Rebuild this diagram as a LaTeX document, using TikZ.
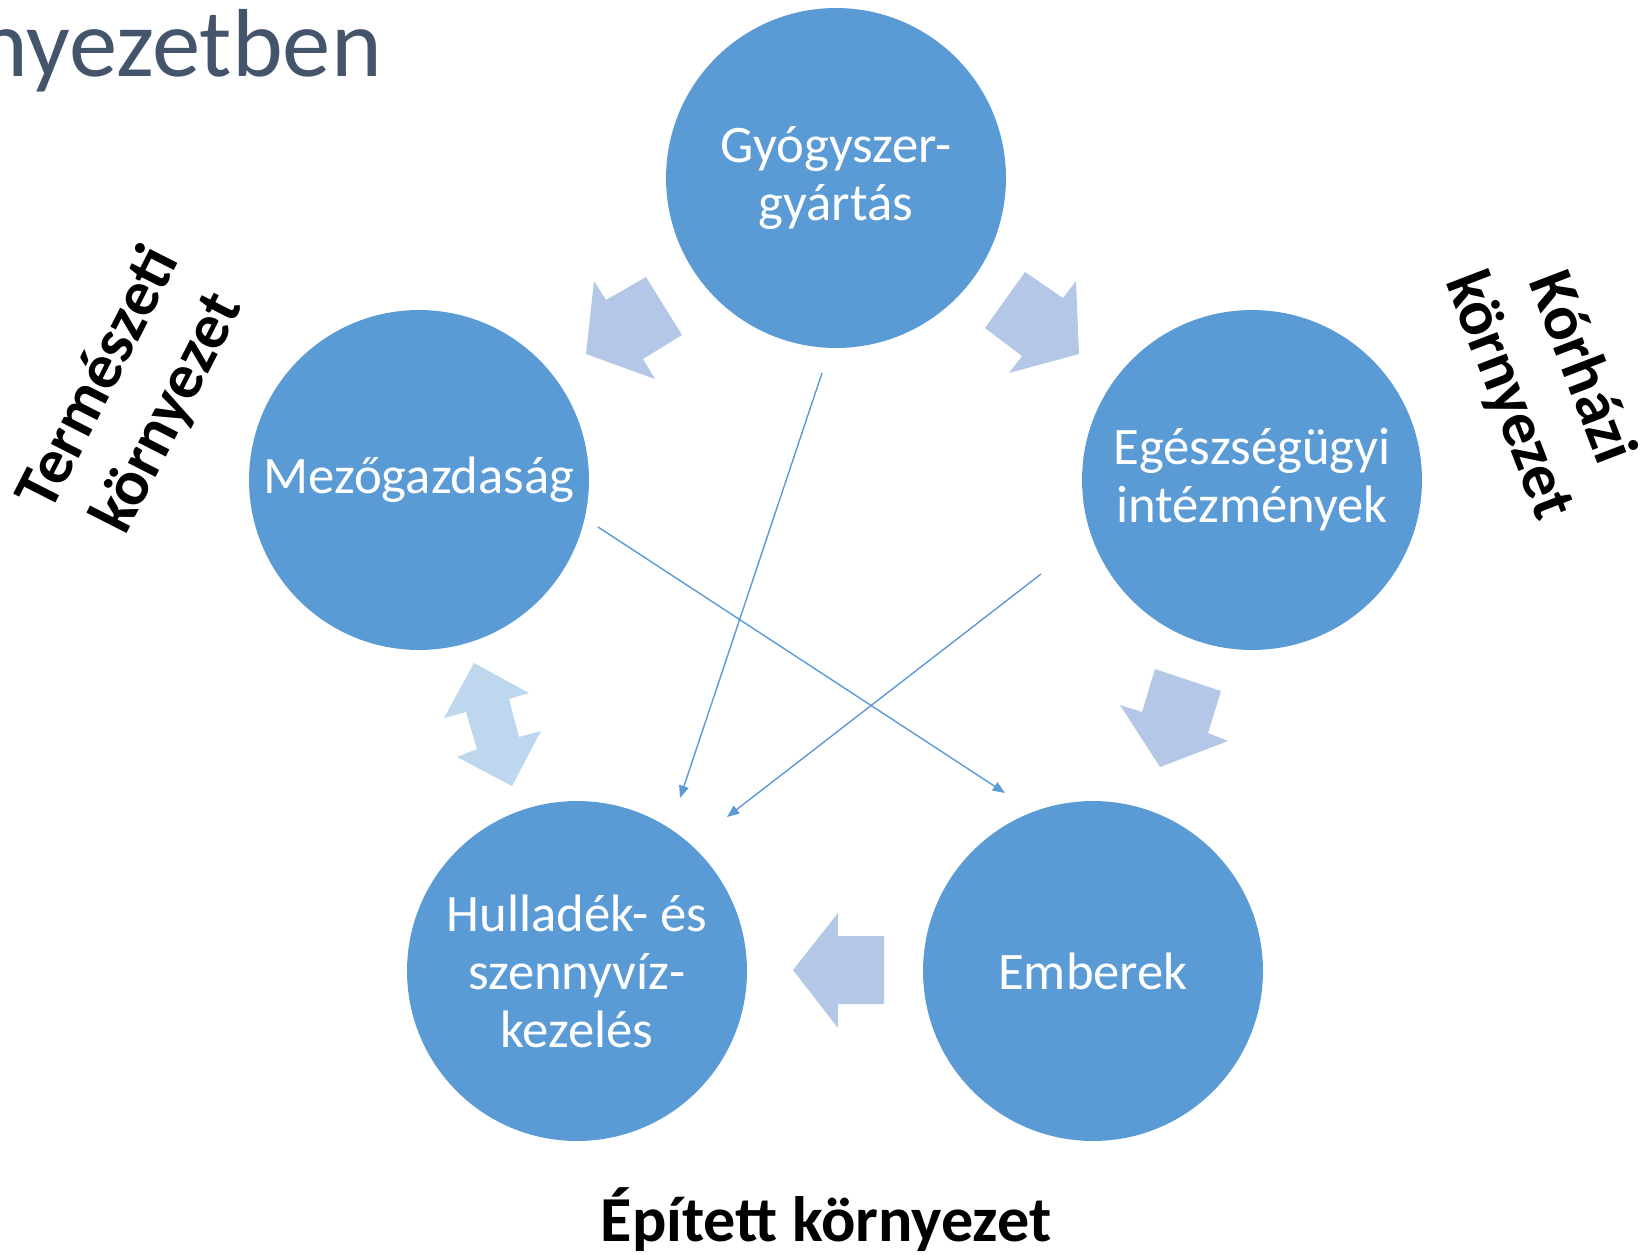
\documentclass[tikz,border=0pt]{standalone}
\usepackage{fontspec}
\setmainfont{Carlito}
\usetikzlibrary{arrows.meta}
\definecolor{circblue}{HTML}{5B9BD5}
\definecolor{arrowblue}{HTML}{B4C7E7}
\definecolor{arrowpale}{HTML}{BDD7EE}
\definecolor{titlegray}{HTML}{44546A}

\begin{document}
\begin{tikzpicture}[x=0.02cm, y=-0.02cm,
                stage/.style={circle, fill=circblue, minimum size=6.8cm, inner sep=0pt, text=white, align=center, font=\fontsize{30}{33}\selectfont},
                envlabel/.style={align=center, font=\fontsize{36.5}{44}\selectfont\bfseries},
                flow/.style={-{Triangle[length=7pt, width=5.5pt]}, draw=circblue, line width=0.8pt},
                blockarrow/.style={fill=arrowblue, draw=none}]
                \useasboundingbox (0,0) rectangle (1646,1254);

                % Title (cut off at the left edge)
                \node at (382,76) [anchor=base east, inner sep=0pt, text=titlegray, font=\fontsize{55}{60}\selectfont] (title) {nyezetben};

                % Circles with labels
                \node at (836,178) [stage] (gyartas) {Gyógyszer-\\gyártás};
                \node at (419,480) [stage] (mezo) {Mezőgazdaság};
                \node at (1252,480) [stage] (intezmeny) {Egészségügyi\\intézmények};
                \node at (577,971) [stage] (hulladek) {Hulladék- és\\szennyvíz-\\kezelés};
                \node at (1093,971) [stage] (emberek) {Emberek};

                % Block arrows
                \fill[blockarrow] (594,281) -- (606,300) -- (646,277) -- (682,335) -- (643,359) -- (655,379) -- (586,354) -- cycle;
                \fill[blockarrow] (1025,272) -- (1063,298) -- (1076,281) -- (1079,354) -- (1009,373) -- (1022,356) -- (985,328) -- cycle;
                \fill[blockarrow, fill=arrowpale] (474,663) -- (529,693) -- (509,699) -- (519,737) -- (541,731) -- (512,786) -- (457,757) -- (477,749) -- (466,712) -- (444,718) -- cycle;
                \fill[blockarrow] (1155,669) -- (1221,691) -- (1208,733) -- (1228,741) -- (1160,767) -- (1120,705) -- (1142,712) -- cycle;
                \fill[blockarrow] (838,913) -- (838,936) -- (884,936) -- (884,1004) -- (838,1004) -- (838,1028) -- (793,970) -- cycle;

                % Arrows
                \coordinate (gyartas-out) at (822,373);
                \coordinate (hulladek-in1) at (680,798);
                \coordinate (mezo-out) at (598,527);
                \coordinate (emberek-in) at (1005,793);
                \coordinate (intezmeny-out) at (1041,574);
                \coordinate (hulladek-in2) at (727,817);
                \draw[flow] (gyartas-out) -- (hulladek-in1);
                \draw[flow] (mezo-out) -- (emberek-in);
                \draw[flow] (intezmeny-out) -- (hulladek-in2);

                % Environment labels
                \node at (134,396) [envlabel, rotate=63] (termeszeti) {Természeti\\környezet};
                \node at (1544,382) [envlabel, rotate=-69] (korhazi) {Kórházi\\környezet};
                \node at (826,1220) [envlabel] (epitett) {Épített környezet};

                \end{tikzpicture}
\end{document}
